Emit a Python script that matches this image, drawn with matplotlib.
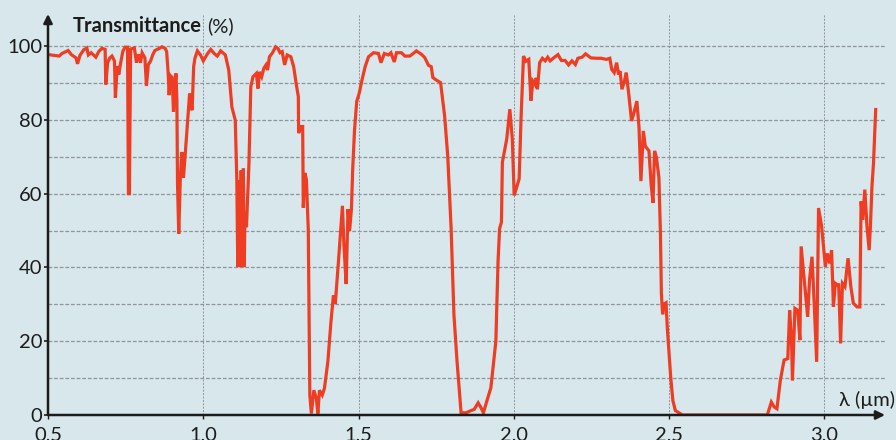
#!/usr/bin/env python3
"""Transmittance spectrum of the atmosphere (0.5 - 3.2 um), textbook-style figure."""
import matplotlib

matplotlib.use("Agg")
import matplotlib.pyplot as plt

# wavelength (um) and transmittance (%)
WAVELENGTH = [
    0.501, 0.536, 0.545, 0.565, 0.575, 0.590, 0.595, 0.603, 0.615, 0.625, 0.630, 0.639,
    0.654, 0.664, 0.674, 0.684, 0.686, 0.692, 0.699, 0.706, 0.714, 0.717, 0.723, 0.728,
    0.733, 0.741, 0.748, 0.756, 0.759, 0.762, 0.766, 0.778, 0.785, 0.791, 0.798, 0.803,
    0.812, 0.817, 0.823, 0.830, 0.837, 0.844, 0.852,
    0.867, 0.877, 0.882, 0.887, 0.890, 0.894, 0.900, 0.904, 0.907, 0.912, 0.915, 0.917,
    0.921, 0.926, 0.931, 0.936, 0.941, 0.949, 0.956, 0.964, 0.969, 0.973, 0.981, 0.991,
    1.000, 1.014, 1.024, 1.035, 1.045, 1.056, 1.071, 1.082, 1.092, 1.103, 1.108, 1.111,
    1.115, 1.118, 1.122, 1.126, 1.129, 1.132, 1.134, 1.139, 1.147, 1.153, 1.160, 1.171,
    1.176, 1.181, 1.188, 1.195,
    1.202, 1.207, 1.213, 1.223, 1.233, 1.241, 1.247, 1.254, 1.262, 1.270, 1.282, 1.291,
    1.299, 1.306, 1.307, 1.314, 1.320, 1.322, 1.327, 1.332, 1.338, 1.343, 1.348, 1.356,
    1.364, 1.369, 1.374, 1.383, 1.390, 1.401, 1.411, 1.419, 1.425, 1.435, 1.448, 1.453,
    1.460, 1.466, 1.471, 1.477, 1.481, 1.487, 1.494, 1.502, 1.511, 1.521, 1.532, 1.548,
    1.564, 1.572, 1.583, 1.596,
    1.604, 1.615, 1.622, 1.638, 1.649, 1.665, 1.676, 1.686, 1.702, 1.713, 1.725, 1.734,
    1.739, 1.750, 1.764, 1.777, 1.787, 1.798, 1.807, 1.817, 1.830, 1.846, 1.862, 1.872,
    1.885, 1.894, 1.902, 1.913, 1.926, 1.942, 1.949, 1.954, 1.960, 1.963, 1.977, 1.987,
    1.995, 2.001, 2.009, 2.017, 2.023, 2.031, 2.039, 2.048, 2.055,
    2.061, 2.068, 2.072, 2.076, 2.083, 2.092, 2.101, 2.109, 2.117, 2.128, 2.142, 2.153,
    2.165, 2.176, 2.187, 2.198, 2.206, 2.220, 2.231, 2.248, 2.265, 2.281, 2.298, 2.309,
    2.315, 2.323, 2.331, 2.337, 2.342, 2.348, 2.356, 2.362, 2.370, 2.379, 2.387, 2.396,
    2.403, 2.409, 2.417, 2.423, 2.435, 2.442, 2.448, 2.453, 2.459, 2.467, 2.472, 2.475,
    2.479, 2.483, 2.490, 2.494, 2.500, 2.505, 2.512, 2.520, 2.543, 2.816,
    2.829, 2.838, 2.847, 2.858, 2.870, 2.882, 2.888, 2.894, 2.897, 2.905, 2.914, 2.921,
    2.925, 2.935, 2.946, 2.952, 2.960, 2.967, 2.975, 2.981, 2.991, 3.003, 3.009, 3.017,
    3.023, 3.029, 3.035, 3.041, 3.046, 3.052, 3.058, 3.066, 3.076, 3.085, 3.093, 3.105,
    3.114, 3.118, 3.123, 3.130, 3.137, 3.144, 3.148, 3.153, 3.158, 3.165,
]
TRANSMITTANCE = [
    97.7, 97.3, 98.0, 98.8, 97.7, 96.8, 95.2, 97.5, 99.0, 99.5, 97.6, 98.2,
    97.0, 98.6, 99.4, 99.1, 89.6, 95.5, 96.8, 97.3, 96.0, 86.0, 94.6, 92.3,
    95.0, 98.6, 99.7, 99.7, 60.0, 60.0, 99.2, 99.5, 95.5, 97.8, 95.5, 98.2,
    96.8, 89.2, 95.0, 95.9, 97.6, 98.8, 99.1,
    99.8, 99.4, 98.5, 92.6, 86.7, 92.0, 91.5, 82.2, 87.2, 92.6, 85.3, 62.7,
    49.1, 64.3, 71.3, 64.3, 69.7, 79.0, 87.2, 82.6, 94.4, 96.7, 98.7, 97.6,
    96.0, 98.0, 99.1, 98.0, 97.3, 98.7, 97.6, 93.5, 83.5, 79.9, 63.6, 40.1,
    63.6, 40.1, 66.3, 40.1, 66.8, 40.1, 54.6, 50.9, 68.1, 89.0, 91.7, 92.6,
    88.5, 93.0, 91.7, 94.0,
    94.9, 93.5, 97.1, 98.2, 99.8, 99.3, 98.2, 98.5, 94.9, 97.6, 97.1, 94.4,
    89.9, 86.3, 76.4, 78.2, 78.2, 56.2, 65.6, 63.8, 50.4, 5.4, 0.4, 6.7,
    4.5, 0.4, 6.7, 5.4, 7.2, 14.4, 25.2, 32.4, 30.1, 41.4, 56.7, 45.9,
    35.5, 55.8, 49.9, 55.8, 66.5, 77.3, 85.0, 87.2, 90.8, 94.4, 97.1, 98.2,
    98.0, 95.5, 98.0, 97.6,
    98.2, 95.7, 98.2, 98.2, 97.3, 97.3, 98.0, 98.7, 97.8, 96.9, 94.8, 94.4,
    91.5, 90.8, 90.1, 81.1, 70.3, 50.5, 27.2, 14.6, 0.6, 0.6, 1.2, 1.5,
    3.3, 2.0, 0.6, 3.8, 7.4, 20.0, 41.5, 50.5, 52.3, 68.5, 74.8, 82.9,
    74.8, 59.5, 61.8, 64.0, 80.2, 97.3, 95.9, 96.4, 85.2,
    90.5, 89.6, 91.4, 88.3, 95.5, 96.7, 96.0, 97.0, 96.0, 96.8, 97.7, 96.1,
    96.1, 94.9, 96.0, 95.0, 96.7, 97.0, 97.9, 96.8, 96.7, 96.7, 96.4, 96.7,
    93.7, 92.8, 95.5, 92.3, 93.2, 88.3, 90.5, 92.8, 86.9, 79.7, 82.0, 85.1,
    77.9, 63.4, 77.0, 72.9, 71.6, 62.5, 57.5, 71.6, 69.8, 64.4, 49.0, 32.8,
    27.3, 30.0, 30.4, 23.7, 16.5, 10.2, 3.9, 1.2, 0.0, 0.0,
    3.5, 2.2, 1.7, 9.4, 14.9, 15.3, 28.4, 20.3, 9.4, 28.9, 28.4, 20.3,
    45.7, 36.6, 26.6, 36.6, 42.9, 30.3, 14.4, 56.1, 51.1, 40.2, 43.8, 41.1,
    44.7, 29.3, 35.7, 35.3, 35.3, 19.4, 35.7, 34.8, 42.5, 34.8, 30.3, 29.3,
    29.3, 57.9, 52.9, 61.1, 51.1, 44.7, 51.1, 62.0, 68.3, 82.8,
]
X_TICKS = [0.5, 1.0, 1.5, 2.0, 2.5, 3.0]
X_TICK_LABELS = ["0,5", "1,0", "1,5", "2,0", "2,5", "3,0"]
Y_TICKS = [0, 20, 40, 60, 80, 100]

PAPER = "#d7e7eb"
CURVE = "#ee3d22"
INK = "#1c1c1c"
GRID = "#8e9498"
FONT = ["Lato", "DejaVu Sans"]


def plot_transmittance(output_path):
    fig = plt.figure(figsize=(8.96, 4.40), dpi=100, facecolor=PAPER)
    W, H = 896, 440
    ax = fig.add_axes([48 / W, 25 / H, (885 - 48) / W, (415 - 14) / H], facecolor=PAPER)

    ax.set_xlim(0.5, 3.195)
    ax.set_ylim(0, 108.7)

    # grid: horizontal every 10 %, vertical at the labelled wavelengths
    for v in range(10, 101, 10):
        ax.axhline(v, color=GRID, lw=0.9, ls=(0, (3, 1.5)), zorder=1)
    for v in X_TICKS[1:]:
        ax.axvline(v, color=GRID, lw=0.7, ls=(0, (2, 1.5)), zorder=1)

    ax.plot(WAVELENGTH, TRANSMITTANCE, color=CURVE, lw=2.3, solid_joinstyle="miter", zorder=3)

    for side in ("top", "right", "left", "bottom"):
        ax.spines[side].set_visible(False)
    arrow = dict(arrowstyle="-|>", color=INK, lw=1.8, mutation_scale=13, shrinkA=0, shrinkB=0)
    ax.annotate("", xy=(0, 1), xytext=(0, 0), xycoords="axes fraction",
                arrowprops=arrow, annotation_clip=False, zorder=5)
    ax.annotate("", xy=(1, 0), xytext=(0, 0), xycoords="axes fraction",
                arrowprops=arrow, annotation_clip=False, zorder=5)

    ax.set_xticks(X_TICKS)
    ax.set_xticklabels(X_TICK_LABELS)
    ax.set_yticks(Y_TICKS)
    ax.tick_params(axis="y", length=3, width=1.2, pad=1, color=INK, labelcolor=INK, labelsize=14.5)
    ax.tick_params(axis="x", length=3, width=1.0, pad=5, color=INK, labelcolor=INK, labelsize=14.5)
    for lab in ax.get_xticklabels() + ax.get_yticklabels():
        lab.set_family(FONT)

    t = fig.text(73 / W, 1 - 32 / H, "Transmittance", family=FONT, fontsize=14.5,
                 fontweight="bold", color=INK, va="baseline", ha="left")
    bb = t.get_window_extent(fig.canvas.get_renderer())
    fig.text(bb.x1 / W + 5 / W, 1 - 32 / H, "(%)", family=FONT, fontsize=14.5,
             color=INK, va="baseline", ha="left")
    fig.text(895 / W, 1 - 406 / H, "λ (µm)", family=FONT, fontsize=14.5,
             color=INK, va="baseline", ha="right")

    fig.savefig(output_path, dpi=100, facecolor=PAPER)
    plt.close(fig)
    print(output_path)


def main():
    plot_transmittance("out.png")


if __name__ == "__main__":
    main()
